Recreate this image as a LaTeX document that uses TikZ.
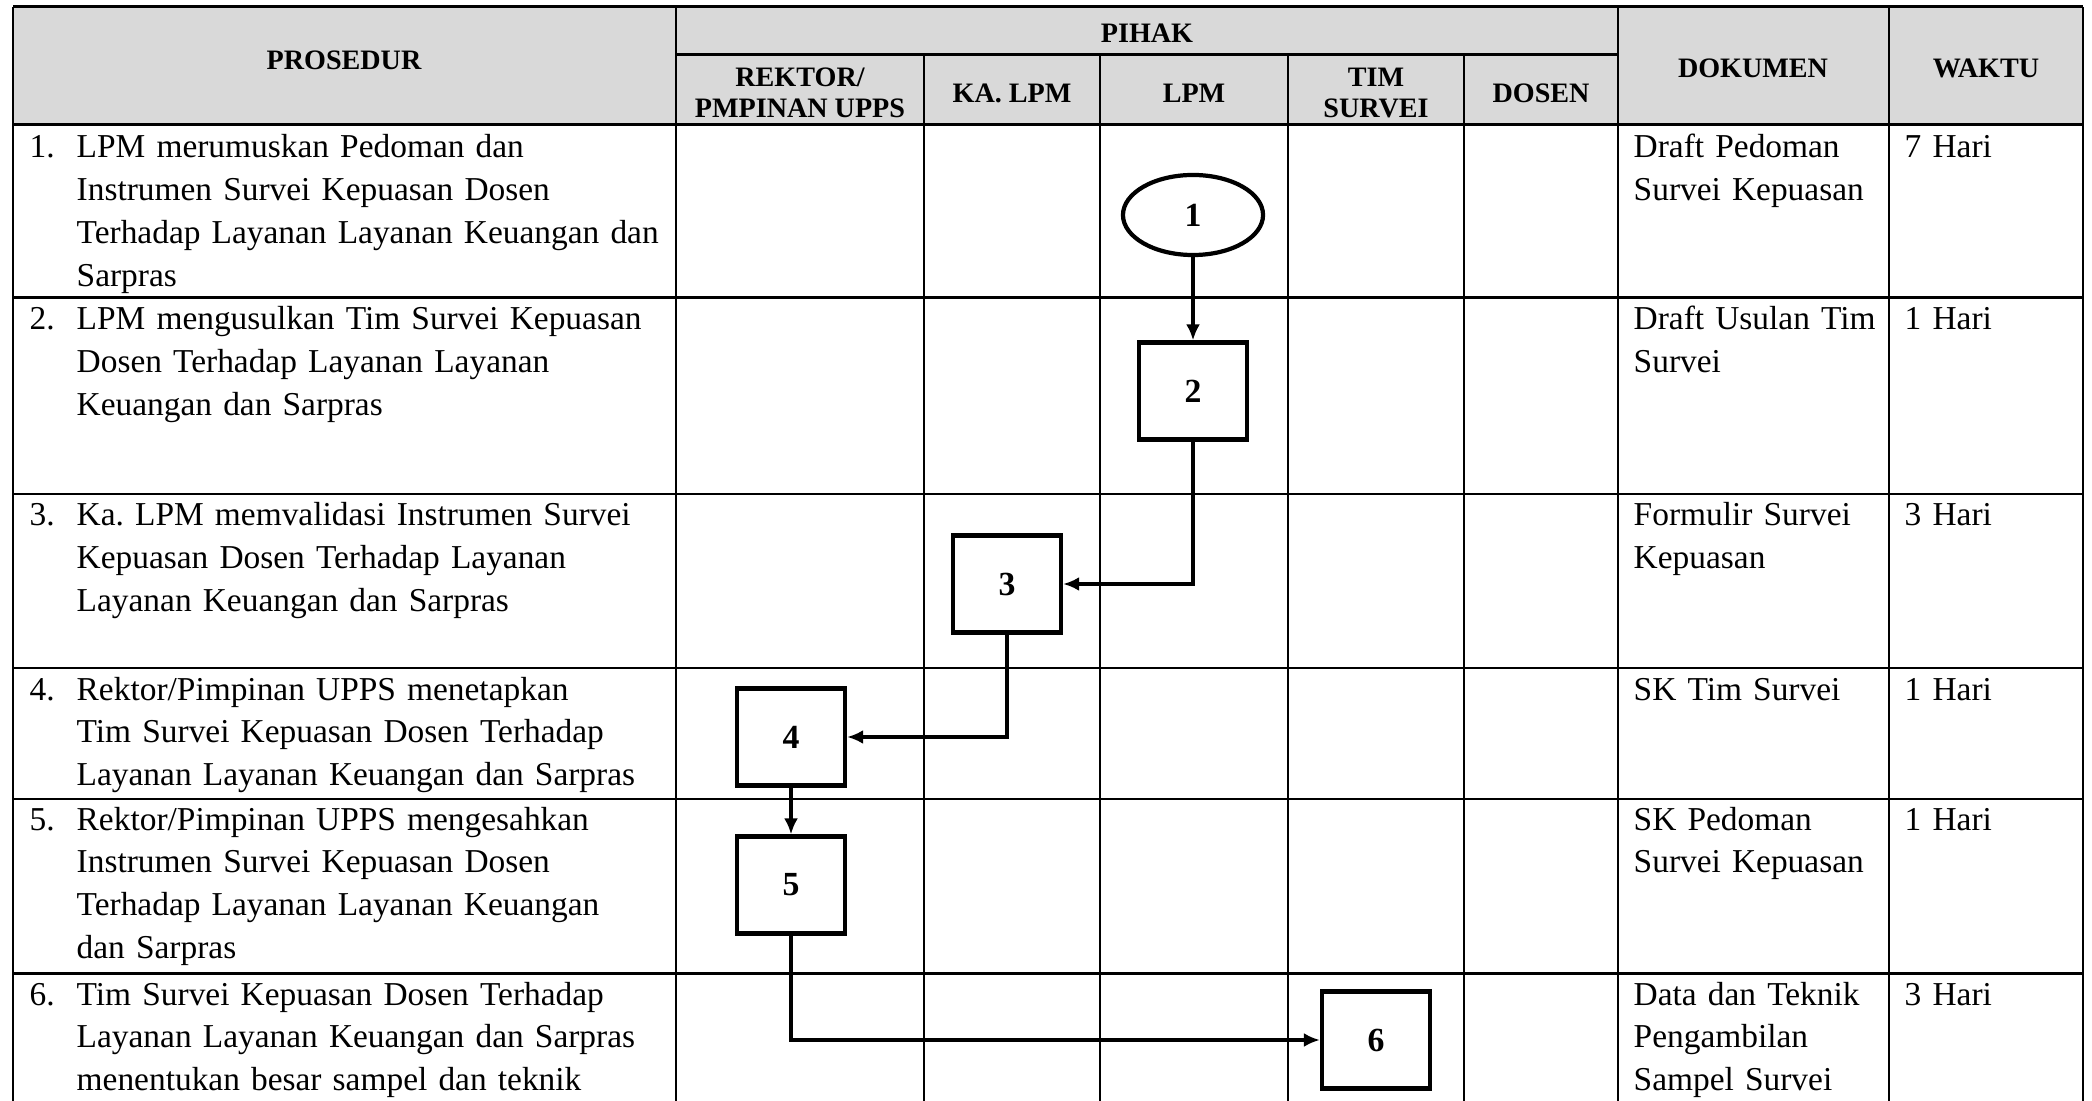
\documentclass[tikz,border=0pt]{standalone}
\usepackage{fontspec}
\setmainfont{Liberation Serif}
\usetikzlibrary{arrows.meta,shapes.geometric}
\definecolor{headgray}{RGB}{217,217,217}
\frenchspacing

\tikzset{
	sopgrid/.style = {
		x = 0.01cm,
		y = -0.01cm,
		font = \fontsize{9.5}{12.2}\selectfont,
		flow/.style = {
			draw,
			line width = 1.1pt,
			-{Latex[length=1.6mm,width=1.4mm]},
		}
	},
	headtext/.style = {
		font = \fontsize{8}{9}\selectfont\bfseries,
		align = center,
		inner sep = 0pt
	},
	celltext/.style = {
		anchor = base west,
		inner sep = 0pt,
		align = left
	},
	stepbox/.style = {
		rectangle,
		draw,
		line width = 1.2pt,
		minimum width = 1.08cm,
		minimum height = 0.97cm,
		font = \fontsize{9.6}{12}\selectfont\bfseries
	},
	startnode/.style = {
		ellipse,
		draw,
		line width = 1.2pt,
		inner sep = 0pt,
		minimum width = 1.4cm,
		minimum height = 0.8cm,
		font = \fontsize{9.6}{12}\selectfont\bfseries
	},
	rowline/.style = {
		line width = 0.85pt
	},
	colline/.style = {
		line width = 0.55pt
	}
}

\begin{document}
\begin{tikzpicture}[sopgrid]
	\useasboundingbox (0,0) rectangle (2092,1101);
	\fill[headgray] (13,7) rectangle (2083,125);

	\foreach \y in {7,125,298,494,668,799,973}
		\draw[rowline] (13,\y) -- (2083,\y);
	\draw[rowline] (676,55) -- (1618,55);
	\foreach \x in {13,676,1618,1889,2083}
		\draw[colline] (\x,7) -- (\x,1101);
	\foreach \x in {924,1100,1288,1464}
		\draw[colline] (\x,55) -- (\x,1101);

	\node[headtext] (hpros) at (344,60) {PROSEDUR};
	\node[headtext] (hpihak) at (1147,33) {PIHAK};
	\node[headtext] (hrek) at (800,93) {REKTOR/\\PMPINAN UPPS};
	\node[headtext] (hka) at (1012,93) {KA. LPM};
	\node[headtext] (hlpm) at (1194,93) {LPM};
	\node[headtext] (htim) at (1376,93) {TIM\\SURVEI};
	\node[headtext] (hdos) at (1541,93) {DOSEN};
	\node[headtext] (hdok) at (1753,68) {DOKUMEN};
	\node[headtext] (hwak) at (1986,68) {WAKTU};

	\node[celltext] (n1) at (29,158) {1.};
	\node[celltext, text width = 6.2cm] (p1) at (76,158) {LPM merumuskan Pedoman dan\\Instrumen Survei Kepuasan Dosen\\Terhadap Layanan Layanan Keuangan dan\\Sarpras};
	\node[celltext, text width = 2.5cm] (d1) at (1633,158) {Draft Pedoman\\Survei Kepuasan};
	\node[celltext, text width = 1.6cm] (w1) at (1904,158) {7 Hari};

	\node[celltext] (n2) at (29,330) {2.};
	\node[celltext, text width = 6.2cm] (p2) at (76,330) {LPM mengusulkan Tim Survei Kepuasan\\Dosen Terhadap Layanan Layanan\\Keuangan dan Sarpras};
	\node[celltext, text width = 2.5cm] (d2) at (1633,330) {Draft Usulan Tim\\Survei};
	\node[celltext, text width = 1.6cm] (w2) at (1904,330) {1 Hari};

	\node[celltext] (n3) at (29,526) {3.};
	\node[celltext, text width = 6.2cm] (p3) at (76,526) {Ka. LPM memvalidasi Instrumen Survei\\Kepuasan Dosen Terhadap Layanan\\Layanan Keuangan dan Sarpras};
	\node[celltext, text width = 2.5cm] (d3) at (1633,526) {Formulir Survei\\Kepuasan};
	\node[celltext, text width = 1.6cm] (w3) at (1904,526) {3 Hari};

	\node[celltext] (n4) at (29,700) {4.};
	\node[celltext, text width = 6.2cm] (p4) at (76,700) {Rektor/Pimpinan UPPS menetapkan\\Tim Survei Kepuasan Dosen Terhadap\\Layanan Layanan Keuangan dan Sarpras};
	\node[celltext, text width = 2.5cm] (d4) at (1633,700) {SK Tim Survei};
	\node[celltext, text width = 1.6cm] (w4) at (1904,700) {1 Hari};

	\node[celltext] (n5) at (29,830) {5.};
	\node[celltext, text width = 6.2cm] (p5) at (76,830) {Rektor/Pimpinan UPPS mengesahkan\\Instrumen Survei Kepuasan Dosen\\Terhadap Layanan Layanan Keuangan\\dan Sarpras};
	\node[celltext, text width = 2.5cm] (d5) at (1633,830) {SK Pedoman\\Survei Kepuasan};
	\node[celltext, text width = 1.6cm] (w5) at (1904,830) {1 Hari};

	\node[celltext] (n6) at (29,1005) {6.};
	\node[celltext, text width = 6.2cm] (p6) at (76,1005) {Tim Survei Kepuasan Dosen Terhadap\\Layanan Layanan Keuangan dan Sarpras\\menentukan besar sampel dan teknik};
	\node[celltext, text width = 2.5cm] (d6) at (1633,1005) {Data dan Teknik\\Pengambilan\\Sampel Survei};
	\node[celltext, text width = 1.6cm] (w6) at (1904,1005) {3 Hari};

	\node[startnode] (s1) at (1193,215) {1};
	\node[stepbox] (s2) at (1193,391) {2};
	\node[stepbox] (s3) at (1007,584) {3};
	\node[stepbox] (s4) at (791,737) {4};
	\node[stepbox] (s5) at (791,885) {5};
	\node[stepbox] (s6) at (1376,1040) {6};

	\begin{scope}[every path/.style = flow]
		\path (s1) to (s2);
		\path (s2.south) |- (s3.east);
		\path (s3.south) |- (s4.east);
		\path (s4) to (s5);
		\path (s5.south) |- (s6.west);
	\end{scope}
\end{tikzpicture}
\end{document}
